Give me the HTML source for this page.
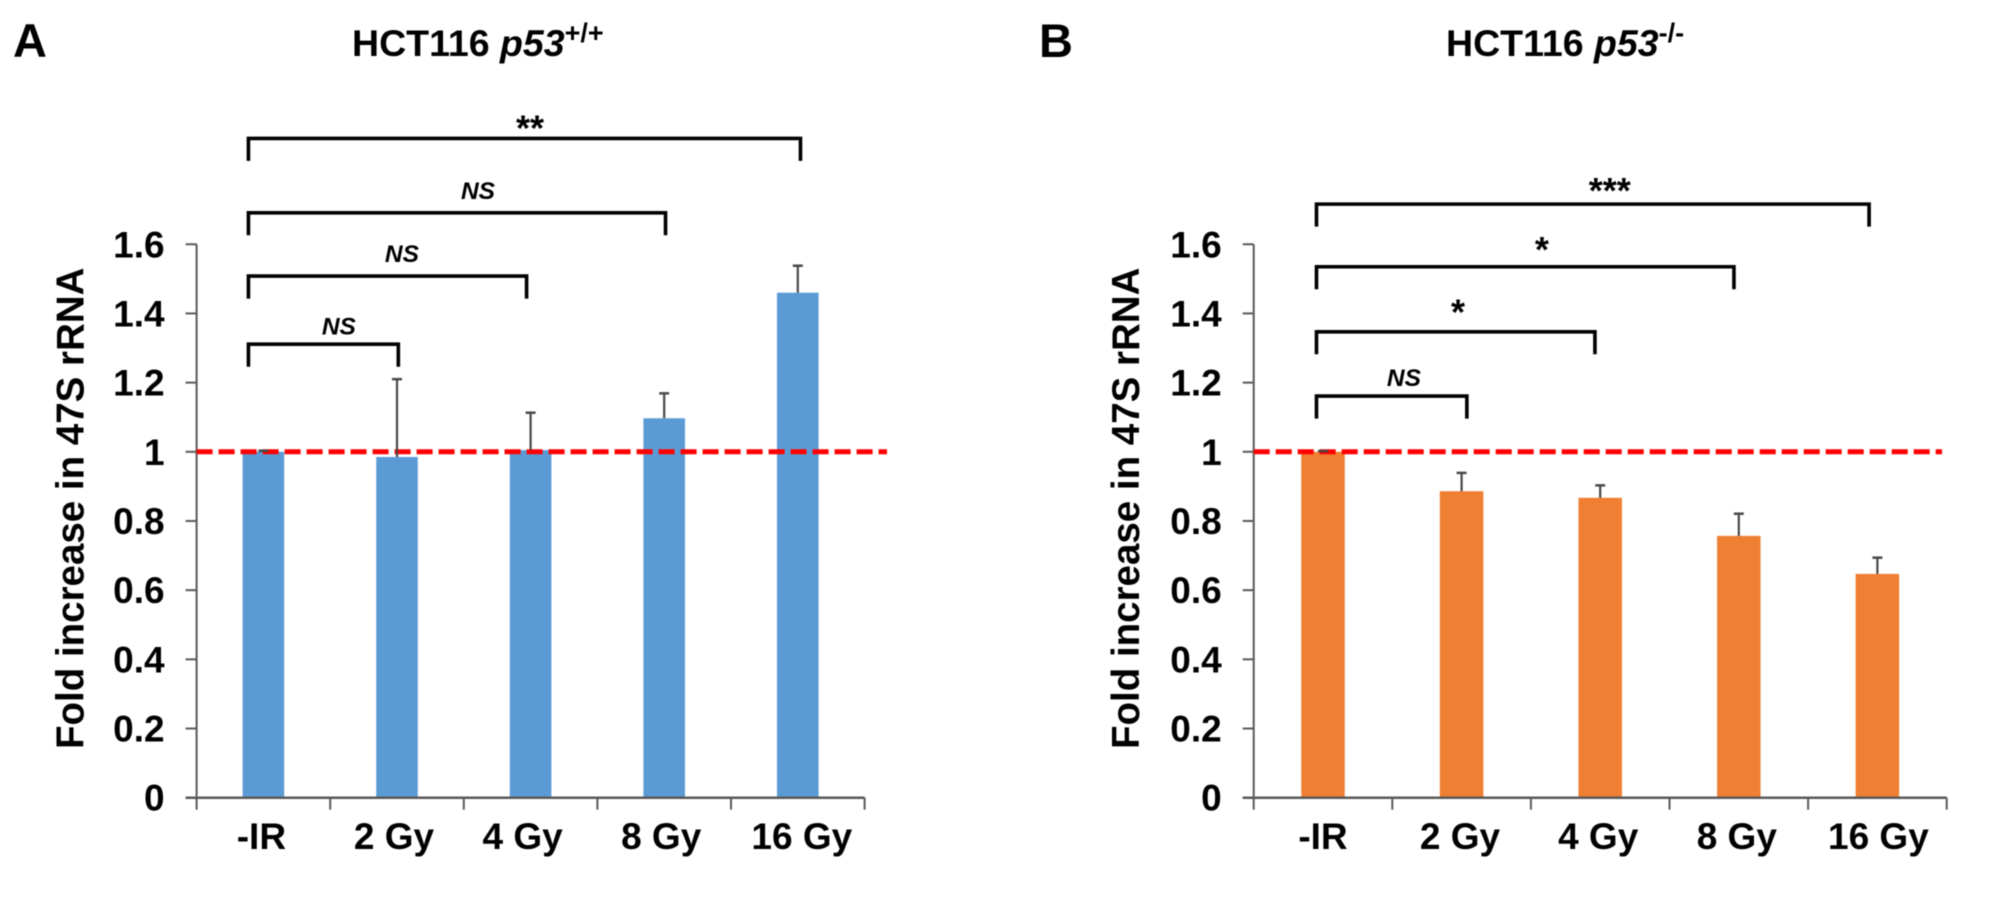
<!DOCTYPE html>
<html lang="en">
<head>
<meta charset="utf-8">
<title>Fold increase in 47S rRNA</title>
<style>
html,body{margin:0;padding:0;background:#fff;width:2008px;height:904px;overflow:hidden}
svg{display:block;filter:blur(0.55px)}
text{font-family:"Liberation Sans",Arial,sans-serif;font-weight:bold;fill:#000}
</style>
</head>
<body>
<svg id="figure" xmlns="http://www.w3.org/2000/svg" width="2008" height="904" viewBox="0 0 2008 904">
  <rect width="2008" height="904" fill="#fff"/>
  <text x="13" y="57" font-size="47">A</text>
  <text x="1039" y="57" font-size="47">B</text>
  <text x="352" y="56" font-size="37.5">HCT116 <tspan font-style="italic">p53</tspan><tspan font-size="27" dy="-14">+/+</tspan></text>
  <text x="1446" y="56" font-size="37.5">HCT116 <tspan font-style="italic">p53</tspan><tspan font-size="27" dy="-14">-/-</tspan></text>
  <g id="panel-a"></g>
  <g id="panel-b"></g>
</svg>
<script>
const categories = ['-IR', '2 Gy', '4 Gy', '8 Gy', '16 Gy'];
const yTickLabels = ['0', '0.2', '0.4', '0.6', '0.8', '1', '1.2', '1.4', '1.6'];
const referenceValue = 1;

const valuesA = [1.0, 0.985, 1.005, 1.097, 1.46];
const errorsA = [0.003, 0.225, 0.108, 0.072, 0.078];
const valuesB = [1.0, 0.886, 0.867, 0.757, 0.647];
const errorsB = [0.002, 0.053, 0.036, 0.064, 0.047];

const sigLabelsA = ['**', 'NS', 'NS', 'NS'];
const sigEndsA = [4.02, 3.01, 1.97, 1.01];
const sigLevelsA = [1.906, 1.691, 1.508, 1.311];

const sigLabelsB = ['***', '*', '*', 'NS'];
const sigEndsB = [3.94, 2.965, 1.962, 1.038];
const sigLevelsB = [1.716, 1.535, 1.347, 1.161];

const SVG_NS = 'http://www.w3.org/2000/svg';
const Y_ZERO = 797.7;
const Y_UNIT = 345.9;
function yScale(v) { return Y_ZERO - v * Y_UNIT; }

function make(parent, tag, attrs, content) {
  const el = document.createElementNS(SVG_NS, tag);
  Object.keys(attrs).forEach(function (k) { el.setAttribute(k, attrs[k]); });
  if (content !== undefined) el.textContent = content;
  parent.appendChild(el);
  return el;
}

function drawPanel(cfg) {
  const g = document.getElementById(cfg.id);
  const xPos = function (c) { return cfg.x0 + (c + 0.5) * cfg.band; };
  const xEnd = cfg.x0 + cfg.band * categories.length;

  // bars
  cfg.values.forEach(function (v, i) {
    const bar = make(g, 'rect', { x: xPos(i) - cfg.barW / 2, y: yScale(v), width: cfg.barW, height: Y_ZERO - yScale(v), fill: cfg.color });
    
    
  });

  // y axis with ticks and labels
  const yAxis = make(g, 'line', { x1: cfg.x0, x2: cfg.x0, y1: yScale(1.6), y2: Y_ZERO, stroke: '#595959', 'stroke-width': 2 });
  
  
  yTickLabels.forEach(function (label) {
    const v = Number(label);
    const tick = make(g, 'line', { x1: cfg.x0 - 11, x2: cfg.x0, y1: yScale(v), y2: yScale(v), stroke: '#595959', 'stroke-width': 2 });
    
    
    const t = make(g, 'text', { x: cfg.x0 - 32, y: yScale(v) + 13, 'text-anchor': 'end', 'font-size': 37 }, label);
    
    
  });

  // x axis with ticks and labels
  const xAxis = make(g, 'line', { x1: cfg.x0 - 11, x2: xEnd, y1: Y_ZERO, y2: Y_ZERO, stroke: '#595959', 'stroke-width': 2.5 });
  
  
  for (let i = 0; i <= categories.length; i++) {
    const tx = cfg.x0 + i * cfg.band;
    const tick = make(g, 'line', { x1: tx, x2: tx, y1: Y_ZERO, y2: Y_ZERO + 12, stroke: '#595959', 'stroke-width': 2 });
    
    
  }
  categories.forEach(function (c, i) {
    const t = make(g, 'text', { x: xPos(i) + cfg.labelNudge[i], y: 849, 'text-anchor': 'middle', 'font-size': 37 }, c);
    
    
  });

  // y axis title
  const title = make(g, 'text', { transform: 'translate(' + cfg.titleX + ' 749) rotate(-90)', 'font-size': 38.5 }, 'Fold increase in 47S rRNA');
  
  

  // reference line
  const ref = make(g, 'line', { x1: cfg.x0, x2: cfg.refEnd, y1: yScale(referenceValue), y2: yScale(referenceValue), stroke: '#ff0000', 'stroke-width': 5, 'stroke-dasharray': '16 6' });
  
  

  // error bars
  cfg.values.forEach(function (v, i) {
    const top = yScale(v + cfg.errors[i]);
    const stem = make(g, 'line', { x1: xPos(i), x2: xPos(i), y1: yScale(v), y2: top, stroke: '#484848', 'stroke-width': 2.2 });
    
    
    const cap = make(g, 'line', { x1: xPos(i) - 5, x2: xPos(i) + 5, y1: top, y2: top, stroke: '#484848', 'stroke-width': 2.5 });
    
    
  });

  // significance brackets
  cfg.sigLabels.forEach(function (label, i) {
    const left = xPos(cfg.sigStart);
    const right = xPos(cfg.sigEnds[i]);
    const top = yScale(cfg.sigLevels[i]);
    const d = 'M' + left + ' ' + (top + 22.5) + 'V' + top + 'H' + right + 'V' + (top + 22.5);
    const path = make(g, 'path', { d: d, fill: 'none', stroke: '#000', 'stroke-width': 3.6 });
    
    
    const isNS = label === 'NS';
    const t = make(g, 'text', {
      x: xPos(cfg.sigLabelPos[i]),
      y: top + cfg.sigLabelGap[i],
      'text-anchor': 'middle',
      'font-size': isNS ? 24.5 : 36,
      'font-style': isNS ? 'italic' : 'normal'
    }, label);
    
    
  });
}

drawPanel({
  id: 'panel-a', x0: 196.6, band: 133.6, barW: 41.6, color: '#5b9bd5', refEnd: 887,
  titleX: 83.5, values: valuesA, errors: errorsA,
  labelNudge: [-2, -3, -8, -3, 4],
  sigStart: -0.112, sigLabels: sigLabelsA, sigEnds: sigEndsA, sigLevels: sigLevelsA,
  sigLabelPos: [1.996, 1.606, 1.037, 0.565],
  sigLabelGap: [2, -13.7, -14, -9.7]
});

drawPanel({
  id: 'panel-b', x0: 1253.7, band: 138.6, barW: 43.5, color: '#ef7f32', refEnd: 1942,
  titleX: 1139, values: valuesB, errors: errorsB,
  labelNudge: [0, -1.6, -2, -2, 1],
  sigStart: -0.047, sigLabels: sigLabelsB, sigEnds: sigEndsB, sigLevels: sigLevelsB,
  sigLabelPos: [2.069, 1.579, 0.974, 0.584],
  sigLabelGap: [-1, -4.5, -7.5, -10]
});
</script>
</body>
</html>
